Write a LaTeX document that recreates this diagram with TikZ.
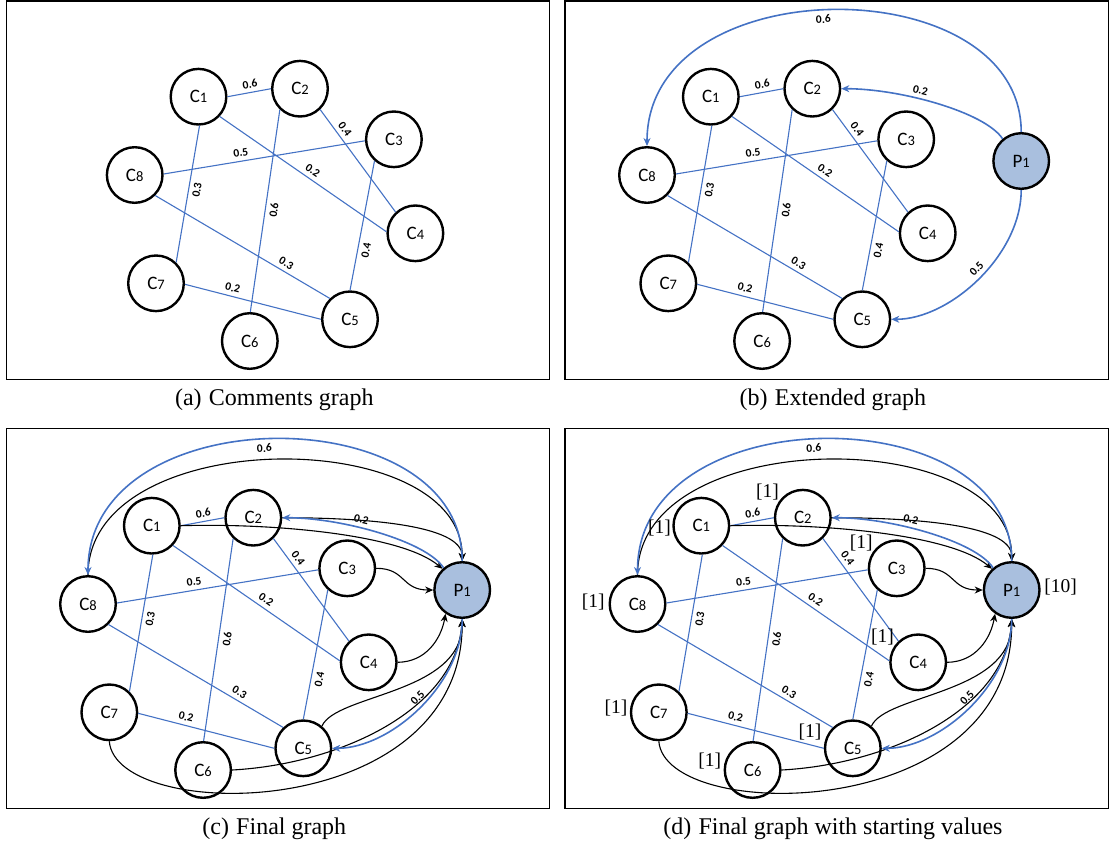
\documentclass[tikz,border=0pt]{standalone}
\usepackage{fontspec}
\setmainfont{Liberation Serif}
\newfontfamily\calib{Carlito}
\usetikzlibrary{arrows.meta}
\definecolor{eblue}{RGB}{68,114,196}
\definecolor{pfill}{RGB}{169,191,222}
\newcommand{\mkC}[1]{{\calib\fontsize{19}{19}\selectfont C\fontsize{14.5}{14.5}\selectfont #1}}
\newcommand{\mkP}[1]{{\calib\fontsize{19}{19}\selectfont P\fontsize{14.5}{14.5}\selectfont #1}}
\newcommand{\commentsgraph}{%
  \node[cnode] (c1) at (710.8,96.7) {\mkC{1}};
  \node[cnode] (c2) at (812.3,88.7) {\mkC{2}};
  \node[cnode] (c3) at (906.2,139.3) {\mkC{3}};
  \node[cnode] (c4) at (927.7,233.3) {\mkC{4}};
  \node[cnode] (c5) at (862.3,319.3) {\mkC{5}};
  \node[cnode] (c6) at (762.1,341) {\mkC{6}};
  \node[cnode] (c7) at (668.3,283.3) {\mkC{7}};
  \node[cnode] (c8) at (647,175) {\mkC{8}};
  \draw[cedge] (c1.0) -- node[wlabel, pos=0.55, above] {0.6} (c2.180);
  \draw[cedge] (c7.46) -- node[wlabel, pos=0.54, below] {0.3} (c1.272);
  \draw[cedge] (c1.317) -- node[wlabel, pos=0.53, above] {0.2} (c4.177);
  \draw[cedge] (c2.314) -- node[wlabel, pos=0.24, above] {0.4} (c4.133);
  \draw[cedge] (c6.89) -- node[wlabel, pos=0.51, below] {0.6} (c2.226);
  \draw[cedge] (c8.2) -- node[wlabel, pos=0.39, above] {0.5} (c3.183);
  \draw[cedge] (c5.90) -- node[wlabel, pos=0.32, below] {0.4} (c3.228);
  \draw[cedge] (c8.315) -- node[wlabel, pos=0.726, above] {0.3} (c5.134);
  \draw[cedge] (c7.358) -- node[wlabel, pos=0.336, above] {0.2} (c5.180);
}
\newcommand{\pnodeonly}{\node[pnode] (p1) at (1021.2,161) {\mkP{1}};}
\newcommand{\extarcs}{%
  \draw[parc] (p1.90) .. controls (1021.2,-33) and (647,-33) .. node[wlabel, pos=0.52, below] {0.6} (c8.90);
  \draw[parc] (p1.130) .. controls (985,112) and (900,88.7) .. node[wlabel, pos=0.6, above] {0.2} (c2.0);
  \draw[parc] (p1.270) .. controls (1021.2,255) and (950,319.3) .. node[wlabel, pos=0.47, above] {0.5} (c5.0);
}
\newcommand{\finalarcs}{%
  \draw[carc] (c8.90) .. controls (647,-5.4) and (1021.2,-5.4) .. (p1.90);
  \draw[carc] (c2.0) .. controls (920,88.7) and (1021.2,95) .. (p1.90);
  \draw[carc] (c1.0) .. controls (830,94) and (960,105) .. (p1.133);
  \draw[carc] (c3.0) .. controls (965,139.3) and (960,161) .. (p1.180);
  \draw[carc] (c4.0) .. controls (985,233) and (1000,210) .. (p1.235);
  \draw[carc] (c5.50) .. controls (895,265) and (1021.2,265) .. (p1.270);
  \draw[carc] (c6.0) .. controls (900,335) and (1015,280) .. (p1.270);
  \draw[carc] (c7.270) .. controls (675,395) and (1021.2,395) .. (p1.270);
}
\begin{document}
\begin{tikzpicture}[x=1pt,y=-1pt,
  cnode/.style={circle, draw=black, line width=2.4pt, minimum size=55.6pt, inner sep=0pt},
  pnode/.style={cnode, fill=pfill},
  cedge/.style={draw=eblue, line width=1.1pt},
  wlabel/.style={font=\calib\bfseries\fontsize{11.5}{11.5}\selectfont, inner sep=4pt, sloped},
  parc/.style={draw=eblue, line width=1.6pt, -{Stealth[length=8pt,width=7pt]}},
  carc/.style={draw=black, line width=1.1pt, -{Stealth[length=8pt,width=7pt]}},
  startval/.style={font=\fontsize{19.5}{19.5}\selectfont, inner sep=0pt},
  framebox/.style={draw=black, line width=1.2pt},
  captext/.style={font=\fontsize{24}{24}\selectfont, inner sep=0pt}]
\useasboundingbox (0,0) rectangle (1110,847);
\draw[framebox] (6.4,1) rectangle (549.7,379.3);
\draw[framebox] (564.9,1) rectangle (1108.3,379.3);
\draw[framebox] (6.4,428.3) rectangle (549.7,808.3);
\draw[framebox] (564.9,428.3) rectangle (1108.3,808.3);
\begin{scope}[shift={(-512.3,0)}, name prefix=a-]
  \commentsgraph
\end{scope}
\begin{scope}[name prefix=b-]
  \commentsgraph
  \pnodeonly
  \extarcs
\end{scope}
\begin{scope}[shift={(-559,429)}, name prefix=c-]
  \commentsgraph
  \pnodeonly
  \finalarcs
  \extarcs
\end{scope}
\begin{scope}[shift={(-9.5,429)}, name prefix=d-]
  \commentsgraph
  \pnodeonly
  \finalarcs
  \extarcs
  \node[startval] (v1) at ([shift={(-41.9,2.6)}]c1) {[1]};
  \node[startval] (v2) at ([shift={(-35.4,-26)}]c2) {[1]};
  \node[startval] (v3) at ([shift={(-35.5,-25)}]c3) {[1]};
  \node[startval] (v4) at ([shift={(-35.7,-25.6)}]c4) {[1]};
  \node[startval] (v5) at ([shift={(-42.9,-16.6)}]c5) {[1]};
  \node[startval] (v6) at ([shift={(-42.9,-9.3)}]c6) {[1]};
  \node[startval] (v7) at ([shift={(-42.9,-4)}]c7) {[1]};
  \node[startval] (v8) at ([shift={(-44.3,-2.3)}]c8) {[1]};
  \node[startval] (vp) at ([shift={(48.8,-3.3)}]p1) {[10]};
\end{scope}
\node[captext] (capa) at (274.3,400) {(a)\hspace{0.3em}Comments graph};
\node[captext] (capb) at (832.9,400) {(b)\hspace{0.3em}Extended graph};
\node[captext] (capc) at (274.3,828.3) {(c)\hspace{0.3em}Final graph};
\node[captext] (capd) at (832.9,828.3) {(d)\hspace{0.3em}Final graph with starting values};
\end{tikzpicture}
\end{document}
